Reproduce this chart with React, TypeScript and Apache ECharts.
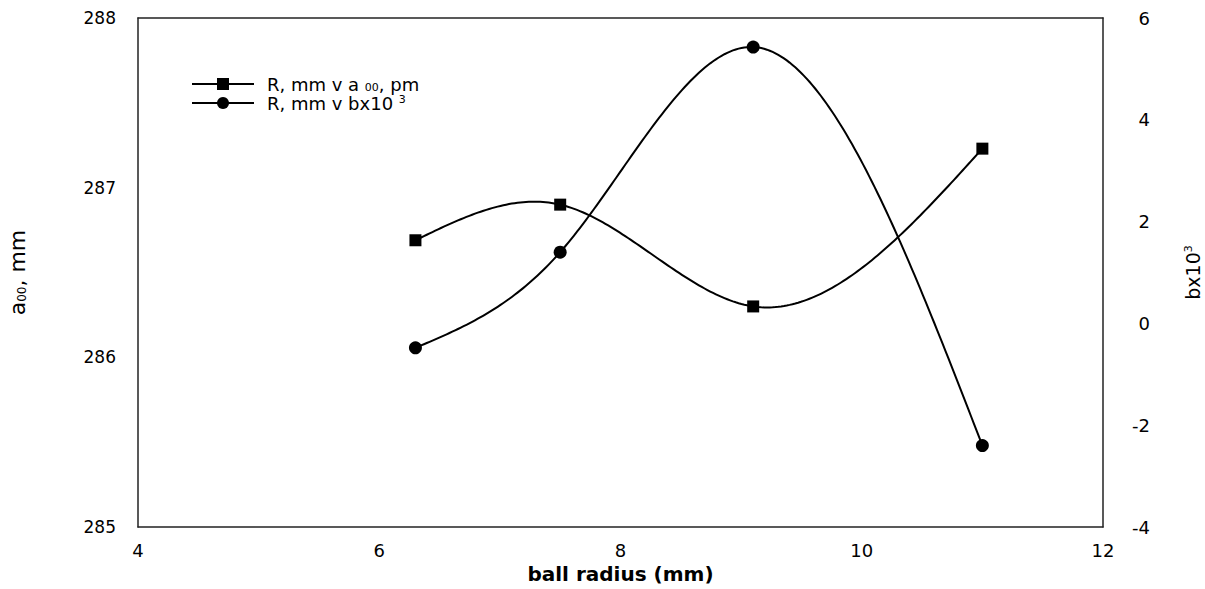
import React, { useEffect, useRef } from "react";
import * as echarts from "echarts";

const radius = [6.3, 7.5, 9.1, 11];
const a00 = [286.69, 286.9, 286.3, 287.23];
const bx = [-0.48, 1.4, 5.43, -2.4];
const xTicks = { min: 4, max: 12, interval: 2 };
const leftTicks = { min: 285, max: 288, interval: 1 };
const rightTicks = { min: -4, max: 6, interval: 2 };

const FONT = "'DejaVu Sans', 'Liberation Sans', Arial, sans-serif";

function spline(xs: number[], ys: number[]) {
  const n = xs.length - 1;
  const h: number[] = [];
  for (let i = 0; i < n; i++) h.push(xs[i + 1] - xs[i]);
  const M = new Array(n + 1).fill(0);
  const a: number[] = [], b: number[] = [], c: number[] = [], d: number[] = [];
  for (let i = 1; i < n; i++) {
    a.push(h[i - 1]);
    b.push(2 * (h[i - 1] + h[i]));
    c.push(h[i]);
    d.push(6 * ((ys[i + 1] - ys[i]) / h[i] - (ys[i] - ys[i - 1]) / h[i - 1]));
  }
  const m = a.length;
  for (let i = 1; i < m; i++) {
    const w = a[i] / b[i - 1];
    b[i] -= w * c[i - 1];
    d[i] -= w * d[i - 1];
  }
  const sol = new Array(m).fill(0);
  for (let i = m - 1; i >= 0; i--) {
    sol[i] = (d[i] - (i < m - 1 ? c[i] * sol[i + 1] : 0)) / b[i];
  }
  for (let i = 0; i < m; i++) M[i + 1] = sol[i];
  return (x: number) => {
    let i = 0;
    while (i < n - 1 && x > xs[i + 1]) i++;
    const hi = h[i];
    const A = xs[i + 1] - x;
    const B = x - xs[i];
    return (
      (M[i] * A * A * A) / (6 * hi) +
      (M[i + 1] * B * B * B) / (6 * hi) +
      (ys[i] / hi - (M[i] * hi) / 6) * A +
      (ys[i + 1] / hi - (M[i + 1] * hi) / 6) * B
    );
  };
}

function curveSeries(ys: number[], yAxisIndex: number) {
  const f = spline(radius, ys);
  return {
    type: "custom",
    yAxisIndex,
    silent: true,
    data: radius.map((x, i) => [x, ys[i]]),
    renderItem: (params: any, api: any) => {
      if (params.dataIndex !== 0) return null;
      const pts: number[][] = [];
      const x0 = radius[0];
      const x1 = radius[radius.length - 1];
      const steps = 200;
      for (let k = 0; k <= steps; k++) {
        const x = x0 + ((x1 - x0) * k) / steps;
        pts.push(api.coord([x, f(x)]));
      }
      return {
        type: "polyline",
        shape: { points: pts },
        style: { stroke: "#000", lineWidth: 2, fill: "none" },
      };
    },
    z: 1,
  };
}

export default function App() {
  const ref = useRef<HTMLDivElement>(null);
  useEffect(() => {
    if (!ref.current) return;
    const chart = echarts.init(ref.current, undefined, { renderer: "svg" });
    const labelStyle = { color: "#000", fontFamily: FONT, fontSize: 17 };
    const axisLine = { show: true, onZero: false, lineStyle: { color: "#222", width: 1.5 } };
    chart.setOption({
      animation: false,
      backgroundColor: "#fff",
      grid: { left: 138, right: 102, top: 18, bottom: 62, containLabel: false, outerBoundsMode: "none" },
      legend: {
        orient: "vertical",
        left: 186,
        top: 70,
        itemWidth: 62,
        itemHeight: 15,
        itemGap: 1,
        data: ["sq", "ci"],
        lineStyle: { color: "#000", width: 2, opacity: 1 },
        formatter: (name: string) =>
          name === "sq" ? "R, mm v a {sub|00}, pm" : "R, mm v bx10 {sup|3}",
        textStyle: {
          color: "#000",
          fontFamily: FONT,
          fontSize: 18,
          lineHeight: 18,
          padding: [0, 0, 0, 8],
          rich: {
            sub: { fontSize: 11, lineHeight: 18, verticalAlign: "bottom", fontFamily: FONT, color: "#000" },
            sup: { fontSize: 11, lineHeight: 18, verticalAlign: "top", fontFamily: FONT, color: "#000" },
          },
        },
      },
      xAxis: [
        {
          type: "value",
          ...xTicks,
          position: "bottom",
          name: "ball radius (mm)",
          nameLocation: "middle",
          nameGap: 36,
          nameTextStyle: { color: "#000", fontFamily: FONT, fontSize: 20, fontWeight: "bold" },
          axisLine,
          axisTick: { show: false },
          splitLine: { show: false },
          axisLabel: { ...labelStyle, fontSize: 18, margin: 14 },
        },
        {
          type: "value",
          ...xTicks,
          position: "top",
          axisLine,
          axisTick: { show: false },
          splitLine: { show: false },
          axisLabel: { show: false },
        },
      ],
      yAxis: [
        {
          type: "value",
          ...leftTicks,
          position: "left",
          name: "a{sub|00}, mm",
          nameLocation: "middle",
          nameRotate: 90,
          nameGap: 110,
          nameTextStyle: {
            color: "#000",
            fontFamily: FONT,
            fontSize: 22,
            rich: { sub: { fontSize: 12, verticalAlign: "bottom", padding: [9, 0, 0, 0], fontFamily: FONT, color: "#000" } },
          },
          axisLine,
          axisTick: { show: false },
          splitLine: { show: false },
          axisLabel: { ...labelStyle, margin: 22, padding: [0, 0, 6, 0] },
        },
        {
          type: "value",
          ...rightTicks,
          position: "right",
          name: "bx10{sup|3}",
          nameLocation: "middle",
          nameRotate: 90,
          nameGap: 80,
          nameTextStyle: {
            color: "#000",
            fontFamily: FONT,
            fontSize: 19,
            rich: { sup: { fontSize: 11, verticalAlign: "top", padding: [0, 0, 9, 0], fontFamily: FONT, color: "#000" } },
          },
          axisLine,
          axisTick: { show: false },
          splitLine: { show: false },
          axisLabel: { ...labelStyle, fontSize: 18, margin: 47, align: "right", padding: [0, 0, 6, 0] },
        },
      ],
      series: [
        curveSeries(a00, 0),
        curveSeries(bx, 1),
        {
          name: "sq",
          type: "line",
          yAxisIndex: 0,
          data: radius.map((x, i) => [x, a00[i]]),
          symbol: "rect",
          symbolSize: 12,
          itemStyle: { color: "#000" },
          lineStyle: { opacity: 0 },
          z: 3,
        },
        {
          name: "ci",
          type: "line",
          yAxisIndex: 1,
          data: radius.map((x, i) => [x, bx[i]]),
          symbol: "circle",
          symbolSize: 13,
          itemStyle: { color: "#000" },
          lineStyle: { opacity: 0 },
          z: 3,
        },
      ],
    });
    return () => chart.dispose();
  }, []);
  return <div ref={ref} style={{ width: 1205, height: 589, position: "absolute", left: 0, top: 0 }} />;
}
